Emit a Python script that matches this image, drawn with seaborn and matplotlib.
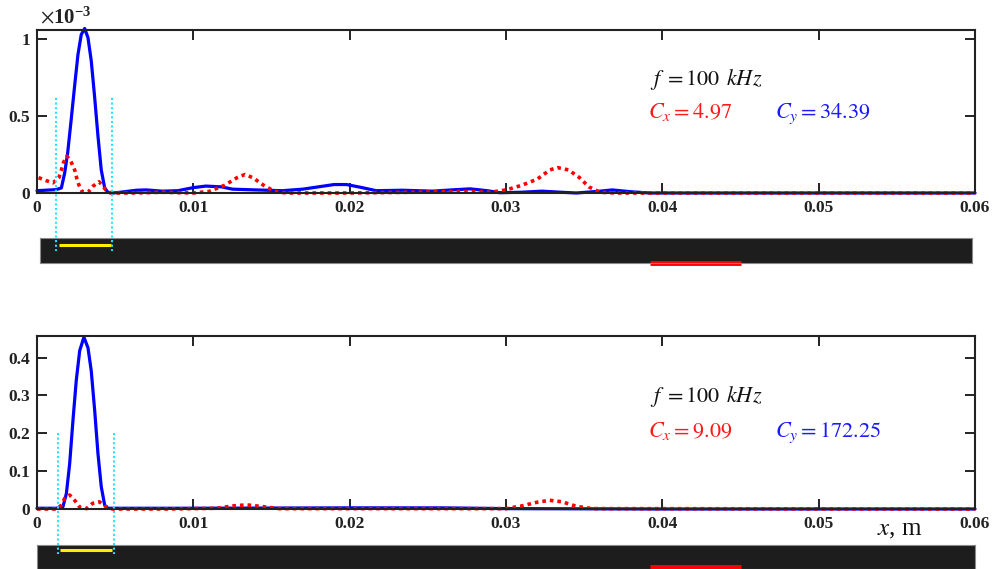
import numpy as np
import matplotlib
matplotlib.use("Agg")
import matplotlib.pyplot as plt
import pandas as pd
import seaborn as sns

# values
# top panel (units of 1e-3)
x_top_blue = [0.0, 0.00123, 0.00156, 0.00177, 0.00196, 0.00219, 0.00241, 0.00262, 0.00283, 0.00305,
              0.00326, 0.00347, 0.00369, 0.0039, 0.00411, 0.00433, 0.00454, 0.00486, 0.0055, 0.00635,
              0.0070, 0.0080, 0.0090, 0.0100, 0.0108, 0.0118, 0.0125, 0.0140, 0.0157, 0.0170,
              0.0180, 0.0190, 0.0198, 0.0208, 0.0217, 0.0234, 0.0253, 0.0265, 0.0277, 0.0288,
              0.0296, 0.0310, 0.0323, 0.0335, 0.0345, 0.0358, 0.0368, 0.0380, 0.0392, 0.0420,
              0.0500, 0.0600]
y_top_blue = [0.015, 0.022, 0.033, 0.13, 0.26, 0.48, 0.70, 0.90, 1.03, 1.07,
              1.01, 0.86, 0.62, 0.37, 0.15, 0.033, 0.004, 0.0, 0.007, 0.018,
              0.02, 0.012, 0.015, 0.035, 0.045, 0.04, 0.025, 0.02, 0.015, 0.025,
              0.04, 0.055, 0.055, 0.035, 0.015, 0.018, 0.012, 0.02, 0.027, 0.015,
              0.002, 0.005, 0.012, 0.005, 0.0, 0.01, 0.02, 0.008, 0.0, 0.0,
              0.0, 0.0]
x_top_red = [0.0001, 0.0006, 0.00102, 0.0014, 0.00156, 0.0017, 0.00192, 0.00219, 0.00241, 0.00256,
             0.00269, 0.0029, 0.00326, 0.00358, 0.00397, 0.00418, 0.0044, 0.00471, 0.0060, 0.0080,
             0.0100, 0.0110, 0.0120, 0.0128, 0.0133, 0.0138, 0.0145, 0.0152, 0.0160, 0.0200,
             0.0240, 0.0270, 0.0290, 0.0300, 0.0310, 0.0320, 0.0328, 0.0333, 0.0340, 0.0347,
             0.0353, 0.0360, 0.0370, 0.0600]
y_top_red = [0.10, 0.08, 0.066, 0.10, 0.15, 0.20, 0.24, 0.20, 0.15, 0.09,
             0.05, 0.007, 0.004, 0.044, 0.073, 0.05, 0.02, 0.0, 0.0, 0.005,
             0.0, 0.01, 0.05, 0.10, 0.12, 0.10, 0.05, 0.01, 0.0, 0.0,
             0.005, 0.01, 0.005, 0.02, 0.05, 0.09, 0.15, 0.165, 0.15, 0.10,
             0.04, 0.005, 0.0, 0.0]

# bottom panel
x_bot_blue = [0.0, 0.00123, 0.00166, 0.00188, 0.00209, 0.0023, 0.00251, 0.00273, 0.0030, 0.00326,
              0.00347, 0.00369, 0.0039, 0.00411, 0.00433, 0.00454, 0.0060, 0.0100, 0.0200, 0.0260,
              0.0300, 0.0400, 0.0600]
y_bot_blue = [0.002, 0.002, 0.006, 0.041, 0.12, 0.234, 0.339, 0.418, 0.454, 0.426,
              0.365, 0.26, 0.146, 0.059, 0.01, 0.002, 0.002, 0.002, 0.003, 0.003,
              0.001, 0.0, 0.0]
x_bot_red = [0.0, 0.00123, 0.00156, 0.00177, 0.00209, 0.00245, 0.00275, 0.00317, 0.00356, 0.00399,
             0.00441, 0.00483, 0.0080, 0.0115, 0.0125, 0.0134, 0.0143, 0.0155, 0.0300, 0.0310,
             0.0320, 0.0328, 0.0336, 0.0345, 0.0355, 0.0600]
y_bot_red = [0.0, 0.0, 0.01, 0.028, 0.037, 0.021, 0.004, 0.001, 0.015, 0.019,
             0.006, 0.0, 0.0, 0.002, 0.008, 0.011, 0.007, 0.001, 0.001, 0.008,
             0.018, 0.023, 0.019, 0.007, 0.001, 0.0]

x_ticks = [0, 0.01, 0.02, 0.03, 0.04, 0.05, 0.06]
x_tick_labels = ["0", "0.01", "0.02", "0.03", "0.04", "0.05", "0.06"]
top_y_ticks = [0, 0.5, 1]
top_y_labels = ["0", "0.5", "1"]
bot_y_ticks = [0, 0.1, 0.2, 0.3, 0.4]
bot_y_labels = ["0", "0.1", "0.2", "0.3", "0.4"]

top_cyan = [0.0012, 0.0048]
bot_cyan = [0.00132, 0.0049]
top_yellow = [0.00141, 0.00473]
bot_yellow = [0.00147, 0.0048]
red_mark = [0.0392, 0.0450]

top_cx, top_cy = "4.97", "34.39"
bot_cx, bot_cy = "9.09", "172.25"

sns.set_theme(style="white")
plt.rcParams["font.family"] = ["Liberation Serif", "DejaVu Serif"]
plt.rcParams["mathtext.fontset"] = "stix"

fig = plt.figure(figsize=(9.97, 5.69), dpi=100)

W, H = 997.0, 569.0
def px_box(l, t, r, b):
    return [l / W, 1 - b / H, (r - l) / W, (b - t) / H]

def px_to_x(p):
    return (p - 37) / 938 * 0.06

# dark specimen strips (behind main axes)
strips = []
for box, ax_xl in [((40, 238, 972, 263), (px_to_x(40), px_to_x(972))),
                   ((37, 545, 975, 569), (0, 0.06))]:
    s = fig.add_axes(px_box(*box))
    s.set_facecolor("#1d1d1d")
    s.set_xlim(*ax_xl)
    s.set_ylim(0, 1)
    s.set_xticks([])
    s.set_yticks([])
    for sp in s.spines.values():
        sp.set_color("#8a8a8a")
        sp.set_linewidth(0.8)
    strips.append(s)

strips[0].plot(top_yellow, [0.72, 0.72], color="#ffee00", lw=2.2, solid_capstyle="butt")
strips[0].plot(red_mark, [0.0, 0.0], color="#ff0000", lw=3.5, solid_capstyle="butt", clip_on=False)
strips[1].plot(bot_yellow, [0.78, 0.78], color="#ffee00", lw=2.2, solid_capstyle="butt")
strips[1].plot(red_mark, [0.08, 0.08], color="#ff0000", lw=3.5, solid_capstyle="butt", clip_on=False)

ax1 = fig.add_axes(px_box(37, 30, 975, 193))
ax2 = fig.add_axes(px_box(37, 336, 975, 509))

panels = [
    (ax1, x_top_red, y_top_red, x_top_blue, y_top_blue, (0, 1.06), top_y_ticks, top_y_labels,
     top_cyan, 0.62, -0.38, (0.70, 0.49), top_cx, top_cy),
    (ax2, x_bot_red, y_bot_red, x_bot_blue, y_bot_blue, (0, 0.457), bot_y_ticks, bot_y_labels,
     bot_cyan, 0.20, -0.12, (0.282, 0.19), bot_cx, bot_cy),
]

for (ax, xr, yr, xb, yb, ylim, yt, ytl, cyan, ctop, cbot, ty, cx, cy) in panels:
    ax.set_zorder(3)
    red = pd.DataFrame({"x": xr, "y": yr})
    blue = pd.DataFrame({"x": xb, "y": yb})
    sns.lineplot(data=blue, x="x", y="y", ax=ax, color="#0000ff", lw=2.3, clip_on=False)
    sns.lineplot(data=red, x="x", y="y", ax=ax, color="#ff0000", lw=2.6,
                 linestyle=(0, (1, 1.1)), clip_on=False)
    for cxv in cyan:
        ax.plot([cxv, cxv], [ctop, cbot], color="#22e6ff", lw=1.5,
                linestyle=(0, (1, 1.2)), clip_on=False, zorder=5)
    ax.set_xlim(0, 0.06)
    ax.set_ylim(*ylim)
    ax.set_xticks(x_ticks)
    ax.set_xticklabels(x_tick_labels)
    ax.set_yticks(yt)
    ax.set_yticklabels(ytl)
    ax.set_xlabel("")
    ax.set_ylabel("")
    ax.tick_params(direction="in", length=7, width=1.4, top=True, right=True,
                   bottom=True, left=True, labelsize=12.5, pad=5, colors="#222222")
    for lab in ax.get_xticklabels() + ax.get_yticklabels():
        lab.set_fontweight("bold")
        lab.set_color("#222222")
    for sp in ax.spines.values():
        sp.set_color("#222222")
        sp.set_linewidth(1.5)
    ax.text(0.0392, ty[0], r"$f\;=100\;\,kHz$", fontsize=16, color="#111111", va="baseline")
    ax.text(0.0391, ty[1], r"$C_x=$" + r"$" + cx + "$", fontsize=16, color="#ff1a1a", va="baseline")
    ax.text(0.0472, ty[1], r"$C_y=$" + r"$" + cy + "$", fontsize=16, color="#1a1aff", va="baseline")

ax1.text(0.003, 1.01, r"$\times$10$^{\mathregular{-3}}$", transform=ax1.transAxes,
         fontsize=15, fontweight="bold", color="#222222", ha="left", va="bottom")
ax2.text(0.0537, -0.058, r"$x$, m", transform=ax2.get_xaxis_transform(),
         fontsize=18, color="#111111", ha="left", va="top")

fig.savefig("out.png", dpi=100)
